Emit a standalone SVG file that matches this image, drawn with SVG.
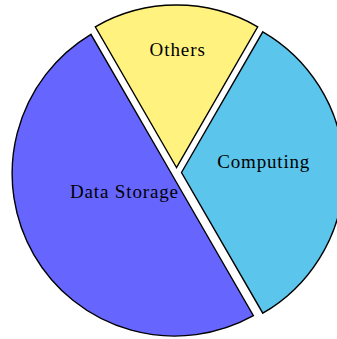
<svg xmlns="http://www.w3.org/2000/svg" width="337" height="339" viewBox="0 0 337 339">
<style>
.slice{stroke:#000;stroke-width:1.4;stroke-linejoin:miter}
.lbl{font-family:"Liberation Serif","Times New Roman",serif;font-size:19px;fill:#000;text-anchor:middle}
</style>
<rect width="337" height="339" fill="#fff"/>
<g id="data-storage">
<path class="slice" fill="#6666FF" d="M172.2,175 L253.4,315.7 A162.5,162.5 0 0 1 90.9,34.3 Z"/>
<text class="lbl" x="124" y="198.3" textLength="108" lengthAdjust="spacing">Data Storage</text>
</g>
<g id="computing">
<path class="slice" fill="#5BC5EB" d="M181.5,172.5 L262.8,31.8 A162.5,162.5 0 0 1 262.8,313.2 Z"/>
<text class="lbl" x="263.3" y="168.3" textLength="92" lengthAdjust="spacing">Computing</text>
</g>
<g id="others">
<path class="slice" fill="#FFF27F" d="M176.5,167.5 L95.3,26.8 A162.5,162.5 0 0 1 257.7,26.8 Z"/>
<text class="lbl" x="177.2" y="55.7" textLength="55.5" lengthAdjust="spacing">Others</text>
</g>
<g id="connectors"/>
</svg>
